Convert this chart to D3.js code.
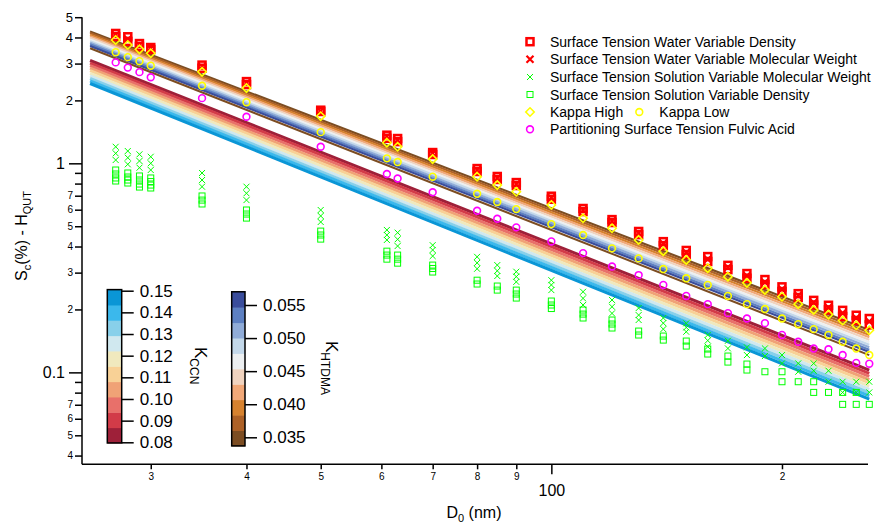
<!DOCTYPE html>
<html>
<head>
<meta charset="utf-8">
<script src="https://cdn.jsdelivr.net/npm/d3@7"></script>
<style>
  body { margin: 0; background: #fff; }
  svg text { font-family: "Liberation Sans", Arial, sans-serif; fill: #000; }
</style>
</head>
<body>
<svg id="chart" width="879" height="526"></svg>
<script>
// ---- data ----
// particle diameters (nm) of the measured points
var diam = [27, 28, 29, 30, 35, 40, 50, 61, 63, 70, 80, 85, 90, 100, 110, 120, 130, 140,
            150, 160, 170, 180, 190, 200, 210, 220, 230, 240, 250, 260];

// Sc (%) per diameter
var kappaHigh = [3.89, 3.68, 3.51, 3.36, 2.74, 2.29, 1.68, 1.255, 1.20, 1.048, 0.863, 0.787, 0.731, 0.632,
                 0.546, 0.489, 0.430, 0.380, 0.345, 0.315, 0.287, 0.268, 0.248, 0.230, 0.212, 0.199,
                 0.189, 0.177, 0.168, 0.159];
var kappaLow = [3.40, 3.22, 3.08, 2.93, 2.35, 1.96, 1.41, 1.056, 1.014, 0.863, 0.715, 0.653, 0.604, 0.512,
                0.454, 0.392, 0.351, 0.312, 0.282, 0.262, 0.232, 0.212, 0.201, 0.181, 0.170, 0.161,
                0.151, 0.140, 0.130, 0.121];
var fulvic = [3.04, 2.87, 2.73, 2.58, 2.05, 1.67, 1.20, 0.889, 0.846, 0.727, 0.593, 0.543, 0.494, 0.423,
              0.372, 0.321, 0.292, 0.262, 0.232, 0.212, 0.192, 0.181, 0.172, 0.151, 0.140, 0.130,
              0.129, 0.121, 0.111, 0.110];
var waterDensity = [[4.18, 4.04], [4.03, 3.83], [3.74, 3.62], [3.58, 3.50], [2.95, 2.85], [2.46, 2.38],
                    [1.795, 1.77], [1.363, 1.318], [1.314, 1.27], [1.126, 1.102], [0.944, 0.914],
                    [0.865, 0.837], [0.809, 0.783], [0.696, 0.673], [0.608, 0.588], [0.538, 0.521],
                    [0.472, 0.456], [0.422, 0.404], [0.383, 0.366], [0.358, 0.339], [0.325, 0.310],
                    [0.297, 0.282], [0.278, 0.263], [0.2565, 0.2435], [0.238, 0.228], [0.221, 0.210],
                    [0.2094, 0.199], [0.198, 0.185], [0.1876, 0.177], [0.181, 0.1688]];
var waterMW = [4.11, 3.92, 3.68, 3.54, 2.90, 2.42, 1.78, 1.34, 1.29, 1.114, 0.929, 0.851, 0.796, 0.685,
               0.598, 0.530, 0.464, 0.413, 0.374, 0.348, 0.318, 0.290, 0.270, 0.250, 0.233, 0.216,
               0.204, 0.192, 0.182, 0.175];
var solutionMW = [[1.20, 1.116, 1.037], [1.145, 1.064, 0.989], [1.104, 1.026, 0.953], [1.075, 1.0, 0.929],
                  [0.899, 0.832, 0.773], [0.773, 0.719, 0.667], [0.598, 0.560, 0.524], [0.480, 0.454, 0.430],
                  [0.466, 0.433, 0.402], [0.406, 0.385, 0.360], [0.357, 0.334, 0.313], [0.326, 0.306, 0.289],
                  [0.303, 0.287, 0.271], [0.276, 0.262, 0.2475], [0.243, 0.226, 0.210], [0.222, 0.206, 0.1915],
                  [0.203, 0.188, 0.178], [0.182, 0.172, 0.161], [0.1716, 0.164, 0.1564], [0.151, 0.142, 0.1326],
                  [0.1416, 0.1302], [0.1317, 0.121], [0.1302, 0.1197], [0.121, 0.1104], [0.1104, 0.1007],
                  [0.1104, 0.1018], [0.1018, 0.0902], [0.0902, 0.0802], [0.0902, 0.0802], [0.0902, 0.0802]];
var solutionDensity = [[0.929, 0.889, 0.851, 0.823], [0.899, 0.860, 0.832, 0.805], [0.870, 0.832, 0.796, 0.770],
                       [0.851, 0.818, 0.787, 0.762], [0.698, 0.667, 0.639], [0.598, 0.572, 0.547],
                       [0.474, 0.454, 0.434], [0.380, 0.364, 0.348], [0.364, 0.348, 0.333], [0.326, 0.314, 0.302],
                       [0.276, 0.2646], [0.2588, 0.2475], [0.2475, 0.237, 0.2267], [0.2194, 0.210, 0.202],
                       [0.1987, 0.190, 0.182], [0.178, 0.1703, 0.163], [0.1576, 0.1509], [0.1492, 0.1427],
                       [0.1412, 0.1336], [0.1293, 0.1224], [0.1197, 0.112], [0.1096, 0.1026], [0.1007],
                       [0.1007, 0.0902], [0.0902], [0.0902, 0.0802], [0.0802], [0.0802, 0.0703],
                       [0.0802, 0.0703], [0.0703]];

// theoretical lines: Sc at the two ends of the diameter range, one line per colour level
var lineDiam = [25, 260];
var kCcnLevels = [0.0805, 0.0875, 0.0945, 0.1015, 0.1085, 0.1155, 0.1225, 0.1295, 0.1365, 0.1435];
var ccnStart = [3.104, 3.016, 2.934, 2.851, 2.774, 2.696, 2.623, 2.549, 2.480, 2.409];
var ccnEnd = [0.1026, 0.0990, 0.0956, 0.0922, 0.0890, 0.0859, 0.0829, 0.0799, 0.0772, 0.0745];
var kHtdmaLevels = [0.0349, 0.0372, 0.0395, 0.0419, 0.0442, 0.0465, 0.0489, 0.0512, 0.0535, 0.0558];
var htdmaStart = [4.272, 4.198, 4.124, 4.052, 3.981, 3.907, 3.839, 3.772, 3.706, 3.641];
var htdmaEnd = [0.1594, 0.1552, 0.1510, 0.1471, 0.1431, 0.1393, 0.1355, 0.1320, 0.1284, 0.1251];
var htdmaEdge = [3.55, 0.121];

// colour tables (low value -> high value)
var ccnColors = ["#9e2039", "#d23b48", "#e8706a", "#f0a276", "#f8d196",
                 "#f0e9be", "#d0e8ef", "#88d0ea", "#3bb8ec", "#0a96d6"];
var htdmaColors = ["#7c4d22", "#ad6127", "#d6822f", "#f1a878", "#f0d3bf",
                   "#eceff1", "#c3d8ea", "#90acd8", "#5d80c2", "#3a4d9c"];
var ccnBarRange = [0.0797, 0.1505];
var htdmaBarRange = [0.0337, 0.0570];
var ccnTicks = [0.08, 0.09, 0.10, 0.11, 0.12, 0.13, 0.14, 0.15];
var htdmaTicks = [0.035, 0.040, 0.045, 0.050, 0.055];

// axis ticks
var yMajor = [0.1, 1];
var yMinor = [0.04, 0.05, 0.06, 0.07, 0.08, 0.09, 0.2, 0.3, 0.4, 0.5, 0.6, 0.7, 0.8, 0.9, 2, 3, 4, 5];
var yMinorLabels = ["4", "5", "6", "7", "", "", "2", "3", "4", "5", "6", "7", "", "", "2", "3", "4", "5"];
var xMajor = [100];
var xMinor = [30, 40, 50, 60, 70, 80, 90, 200];
var xMinorLabels = ["3", "4", "5", "6", "7", "8", "9", "2"];

var legendLabels = ["Surface Tension Water Variable Density",
                    "Surface Tension Water Variable Molecular Weight",
                    "Surface Tension Solution Variable Molecular Weight",
                    "Surface Tension Solution Variable Density",
                    "Kappa High", "Kappa Low",
                    "Partitioning Surface Tension Fulvic Acid"];

// ---- drawing ----
var svg = d3.select("#chart");

var x = d3.scaleLog().domain([24.4, 259]).range([82, 868]);
var y = d3.scaleLog().domain([0.03633, 5]).range([464.3, 17.2]);

// marker helper
function marker(g, type, cx, cy, color) {
   if (type === "square" || type === "squareBold") {
      var s = type === "square" ? 6 : 7;
      g.append("rect")
         .attr("x", cx - s / 2).attr("y", cy - s / 2)
         .attr("width", s).attr("height", s)
         .attr("fill", "none").attr("stroke", color)
         .attr("stroke-width", type === "square" ? 1 : 2.5);
   } else if (type === "x" || type === "xBold") {
      var h = type === "x" ? 3 : 3.5;
      g.append("path")
         .attr("d", "M" + (cx - h) + "," + (cy - h) + "L" + (cx + h) + "," + (cy + h) +
                    "M" + (cx - h) + "," + (cy + h) + "L" + (cx + h) + "," + (cy - h))
         .attr("stroke", color).attr("fill", "none")
         .attr("stroke-width", type === "x" ? 1 : 2.2);
   } else if (type === "diamond") {
      var d = 4.2;
      g.append("path")
         .attr("d", "M" + cx + "," + (cy - d) + "L" + (cx + d) + "," + cy + "L" + cx + "," + (cy + d) +
                    "L" + (cx - d) + "," + cy + "Z")
         .attr("fill", "none").attr("stroke", color).attr("stroke-width", 1.6);
   } else {
      g.append("circle")
         .attr("cx", cx).attr("cy", cy).attr("r", 3.4)
         .attr("fill", "none").attr("stroke", color).attr("stroke-width", 1.6);
   }
}

// theory bands
var line = d3.line()
   .x(function (d) { return x(d[0]); })
   .y(function (d) { return y(d[1]); });

var bands = svg.append("g");
kCcnLevels.forEach(function (k, i) {
   bands.append("path")
      .attr("d", line([[lineDiam[0], ccnStart[i]], [lineDiam[1], ccnEnd[i]]]))
      .attr("stroke", ccnColors[i]).attr("stroke-width", 3).attr("fill", "none");
});
kHtdmaLevels.forEach(function (k, i) {
   bands.append("path")
      .attr("d", line([[lineDiam[0], htdmaStart[i]], [lineDiam[1], htdmaEnd[i]]]))
      .attr("stroke", htdmaColors[i]).attr("stroke-width", 2.2).attr("fill", "none");
});
bands.append("path")
   .attr("d", line([[lineDiam[0], htdmaEdge[0]], [lineDiam[1], htdmaEdge[1]]]))
   .attr("stroke", htdmaColors[0]).attr("stroke-width", 2).attr("fill", "none");

// measured points
var pts = svg.append("g");
diam.forEach(function (D, i) {
   solutionDensity[i].forEach(function (v) { marker(pts, "square", x(D), y(v), "#00ff00"); });
   solutionMW[i].forEach(function (v) { marker(pts, "x", x(D), y(v), "#00ff00"); });
   marker(pts, "circle", x(D), y(fulvic[i]), "#ff00ff");
   marker(pts, "circle", x(D), y(kappaLow[i]), "#ffff00");
   waterDensity[i].forEach(function (v) { marker(pts, "squareBold", x(D), y(v), "#ff0000"); });
   marker(pts, "xBold", x(D), y(waterMW[i]), "#ff0000");
   marker(pts, "diamond", x(D), y(kappaHigh[i]), "#ffff00");
});

// y axis
var yAxisMinor = d3.axisLeft(y).tickValues(yMinor).tickSize(7).tickPadding(2)
   .tickFormat(function (d, i) { return yMinorLabels[i]; });
var gy = svg.append("g").attr("transform", "translate(82,0)").call(yAxisMinor);
gy.selectAll("text").style("font-size", function (d) { return d >= 2 ? "13px" : "10px"; });
var gy2 = svg.append("g").attr("transform", "translate(82,0)")
   .call(d3.axisLeft(y).tickValues(yMajor).tickSize(13).tickPadding(4)
      .tickFormat(function (d) { return d === 1 ? "1" : "0.1"; }));
gy2.selectAll("text").style("font-size", "16px");
gy2.select(".domain").remove();

// x axis
var gx = svg.append("g").attr("transform", "translate(0,464.3)")
   .call(d3.axisBottom(x).tickValues(xMinor).tickSize(5).tickPadding(4)
      .tickFormat(function (d, i) { return xMinorLabels[i]; }));
gx.selectAll("text").style("font-size", "10px");
var gx2 = svg.append("g").attr("transform", "translate(0,464.3)")
   .call(d3.axisBottom(x).tickValues(xMajor).tickSize(10).tickPadding(10)
      .tickFormat(function (d) { return "100"; }));
gx2.selectAll("text").style("font-size", "16px");
gx2.select(".domain").remove();

svg.selectAll(".domain").attr("stroke", "#000").attr("stroke-width", 1.5);
svg.selectAll(".tick line").attr("stroke", "#000").attr("stroke-width", 1.5);
// plain axis lines without end caps
gy.select(".domain").attr("d", "M0," + y(5) + "V" + y.range()[0]);
gx.select(".domain").attr("d", "M" + x.range()[0] + ",0H" + x.range()[1]);

// axis titles
var yt = svg.append("text").attr("transform", "translate(26.5,236) rotate(-90)")
   .attr("text-anchor", "middle").style("font-size", "16px");
yt.append("tspan").text("S");
yt.append("tspan").attr("dy", 4).style("font-size", "11px").text("c");
yt.append("tspan").attr("dy", -4).text("(%) - H");
yt.append("tspan").attr("dy", 4).style("font-size", "11px").text("QUT");

var xt = svg.append("text").attr("x", 474).attr("y", 518)
   .attr("text-anchor", "middle").style("font-size", "16px");
xt.append("tspan").text("D");
xt.append("tspan").attr("dy", 4).style("font-size", "11px").text("0");
xt.append("tspan").attr("dy", -4).text(" (nm)");

// colour bars
function colorBar(x0, w, scale, barRange, colors, ticks, fmt) {
   var g = svg.append("g");
   var step = (barRange[1] - barRange[0]) / colors.length;
   colors.forEach(function (c, i) {
      var lo = barRange[0] + i * step, hi = lo + step;
      g.append("rect").attr("x", x0).attr("width", w)
         .attr("y", scale(hi)).attr("height", scale(lo) - scale(hi) + 0.5)
         .attr("fill", c);
   });
   g.append("rect").attr("x", x0).attr("width", w)
      .attr("y", scale(barRange[1])).attr("height", scale(barRange[0]) - scale(barRange[1]))
      .attr("fill", "none").attr("stroke", "#000").attr("stroke-width", 1.5);
   var ax = g.append("g").attr("transform", "translate(" + (x0 + w) + ",0)")
      .call(d3.axisRight(scale).tickValues(ticks).tickSize(12).tickPadding(6).tickFormat(d3.format(fmt)));
   ax.select(".domain").remove();
   ax.selectAll("line").attr("stroke", "#000").attr("stroke-width", 1.5);
   ax.selectAll("text").style("font-size", "17px");
}
var ccnScale = d3.scaleLinear().domain([0.08, 0.15]).range([442.3, 290.7]);
var htdmaScale = d3.scaleLinear().domain([0.035, 0.055]).range([437.3, 305]);
colorBar(107.3, 14.4, ccnScale, ccnBarRange, ccnColors, ccnTicks, ".2f");
colorBar(231.7, 13.3, htdmaScale, htdmaBarRange, htdmaColors, htdmaTicks, ".3f");

var kc = svg.append("text").attr("transform", "translate(195,347) rotate(90)").style("font-size", "17px");
kc.append("tspan").text("K");
kc.append("tspan").attr("dy", 5).style("font-size", "12px").text("CCN");
var kh = svg.append("text").attr("transform", "translate(326,341) rotate(90)").style("font-size", "17px");
kh.append("tspan").text("K");
kh.append("tspan").attr("dy", 5).style("font-size", "12px").text("HTDMA");

// legend
var legend = svg.append("g");
var rows = [41.7, 59.3, 77, 94.5, 112, 112, 129.3];
var legSym = ["squareBold", "xBold", "x", "square", "diamond", "circle", "circle"];
var legCol = ["#ff0000", "#ff0000", "#00ff00", "#00ff00", "#ffff00", "#ffff00", "#ff00ff"];
var legX = [530, 530, 530, 530, 530, 639.3, 530];
legendLabels.forEach(function (label, i) {
   marker(legend, legSym[i], legX[i], rows[i], legCol[i]);
   legend.append("text").attr("x", legX[i] + 20).attr("y", rows[i] + 5)
      .style("font-size", "14px").text(label);
});
</script>
</body>
</html>
